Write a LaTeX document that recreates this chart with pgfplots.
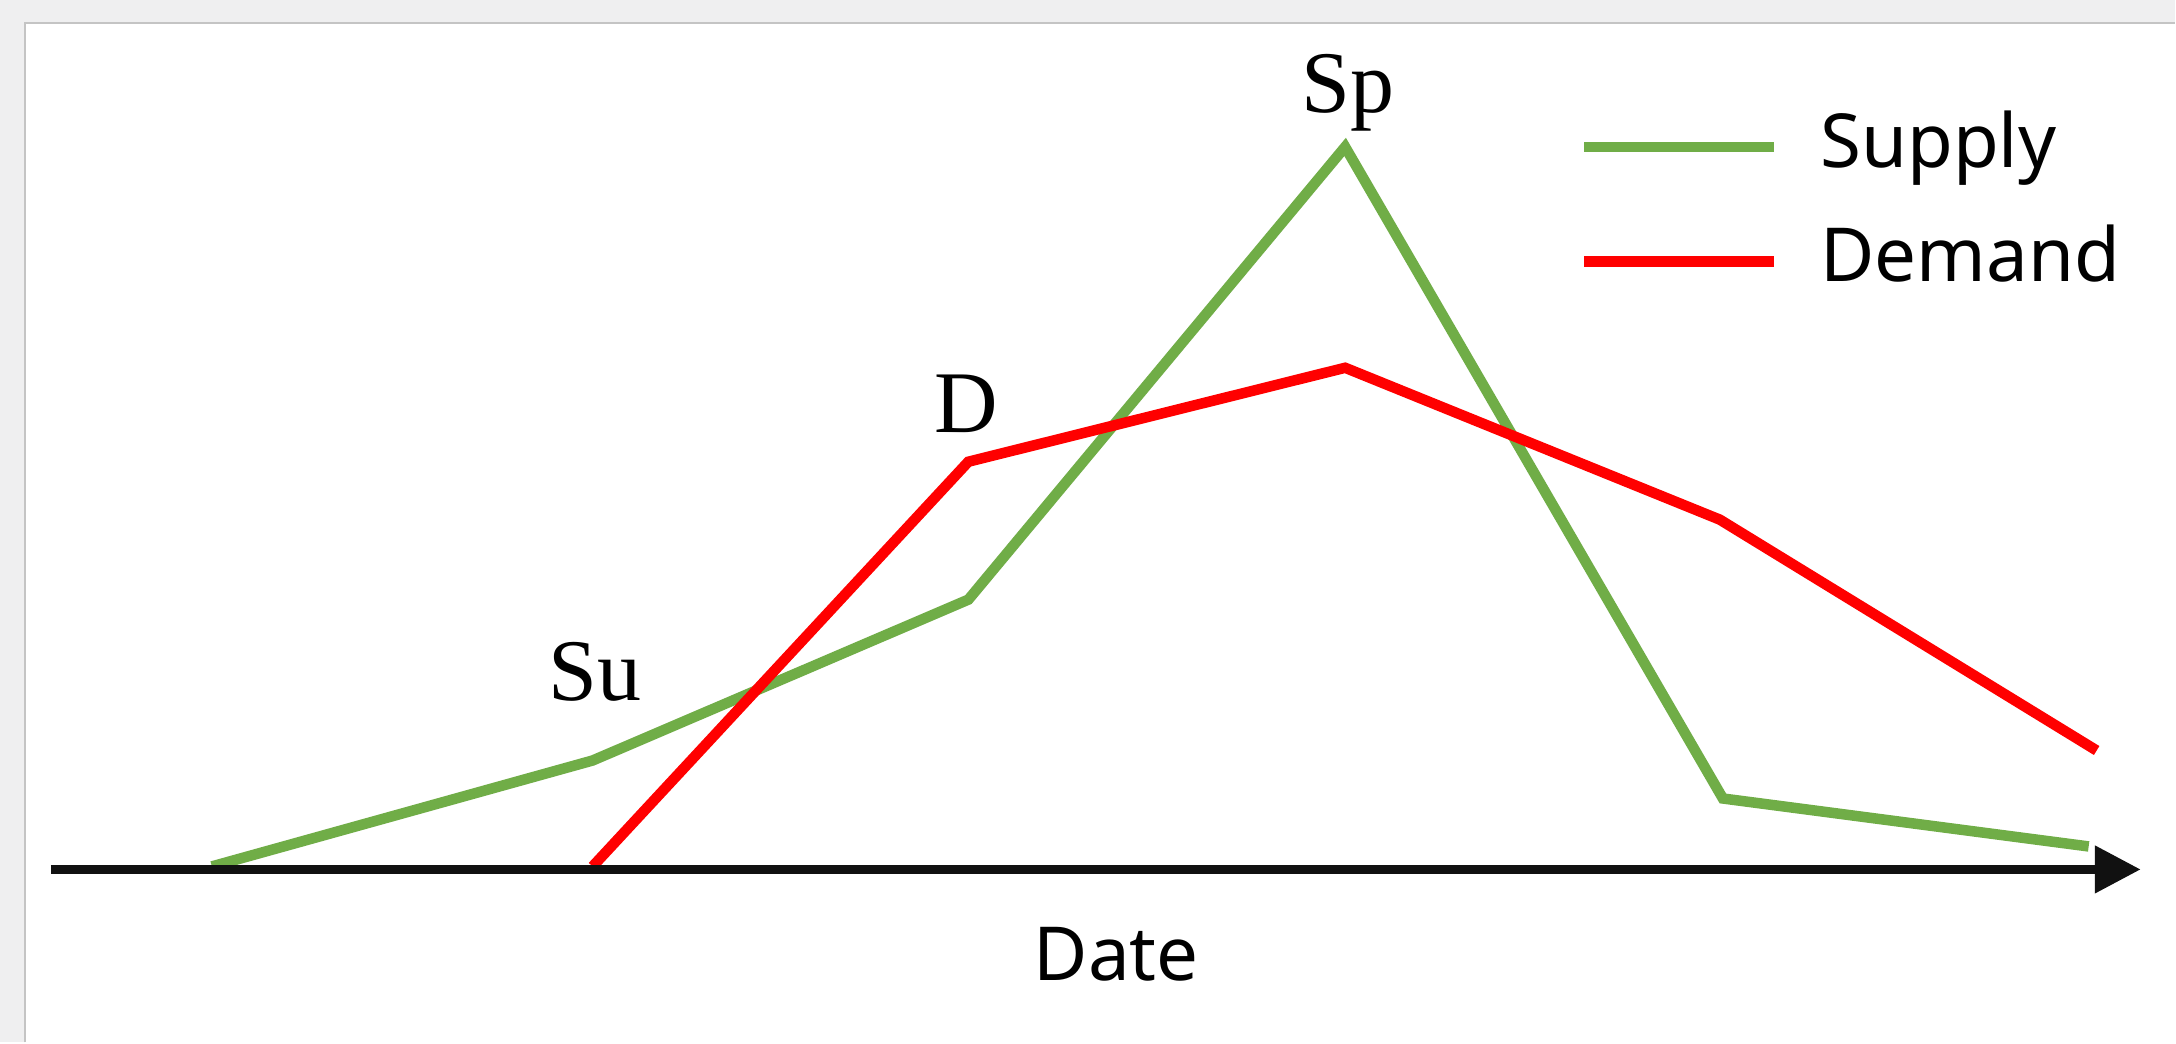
\documentclass[border=0pt]{standalone}
\usepackage{fontspec}
\setmainfont{Liberation Serif}
\newfontfamily\uisans{Noto Sans}
\usepackage{pgfplots}
\pgfplotsset{compat=1.18}
\usetikzlibrary{arrows.meta}

\definecolor{supplygreen}{HTML}{70AD47}
\definecolor{demandred}{HTML}{FF0000}
\definecolor{pagebg}{HTML}{EFEFF0}
\definecolor{panelborder}{HTML}{C4C4C4}
\definecolor{axisblack}{HTML}{111111}

% coordinates are pixels of the 2176x1043 picture, y measured downward
\pgfplotstableread{
x y
212 867
593 761
969 600
1346 147
1724 799
2090 847
}\supply
\pgfplotstableread{
x y
593 867
969 462
1346 368
1721 520
2098 751
}\demand

\begin{document}
\begin{tikzpicture}
\begin{axis}[
    scale only axis, width=16cm, height=7.669cm,
    xmin=0, xmax=2176, ymin=0, ymax=1043, y dir=reverse,
    hide axis, clip=false,
    legend style={draw=none, fill=none, inner sep=0pt, outer sep=0pt,
        at={(axis cs:1580,110)}, anchor=north west,
        font=\uisans\fontsize{15.6}{19}\selectfont,
        row sep=8.5pt,
        nodes={inner sep=0pt, text height=12pt, text depth=3.5pt}},
    legend cell align=left,
    legend image code/.code={\draw[#1] (0pt,0pt) -- (39.7pt,0pt);},
    every axis legend/.append style={column sep=8.6pt},
]
% page background and white panel
\fill[pagebg] (axis cs:0,0) rectangle (axis cs:2176,1043);
\fill[white] (axis cs:25,23) rectangle (axis cs:2176,1043);
\draw[panelborder, line width=0.6pt] (axis cs:25,1043) -- (axis cs:25,23) -- (axis cs:2176,23);

\addplot[supplygreen, line width=2.2pt] table {\supply};
\addlegendentry{Supply}
\addplot[demandred, line width=2.2pt] table {\demand};
\addlegendentry{Demand}

% date axis
\addplot[axisblack, line width=1.8pt, -{Triangle[length=9.6pt,width=9.6pt]}, forget plot]
    coordinates {(51,870) (2142,870)};

\node[anchor=base, font=\fontsize{18.4}{20}\selectfont] at (axis cs:1349,113) {Sp};
\node[anchor=base, font=\fontsize{18.4}{20}\selectfont] at (axis cs:967,433) {D};
\node[anchor=base, font=\fontsize{18.4}{20}\selectfont] at (axis cs:595,701) {Su};
\node[anchor=base, font=\uisans\fontsize{15.6}{19}\selectfont] at (axis cs:1117,981) {Date};
\end{axis}
\end{tikzpicture}
\end{document}
